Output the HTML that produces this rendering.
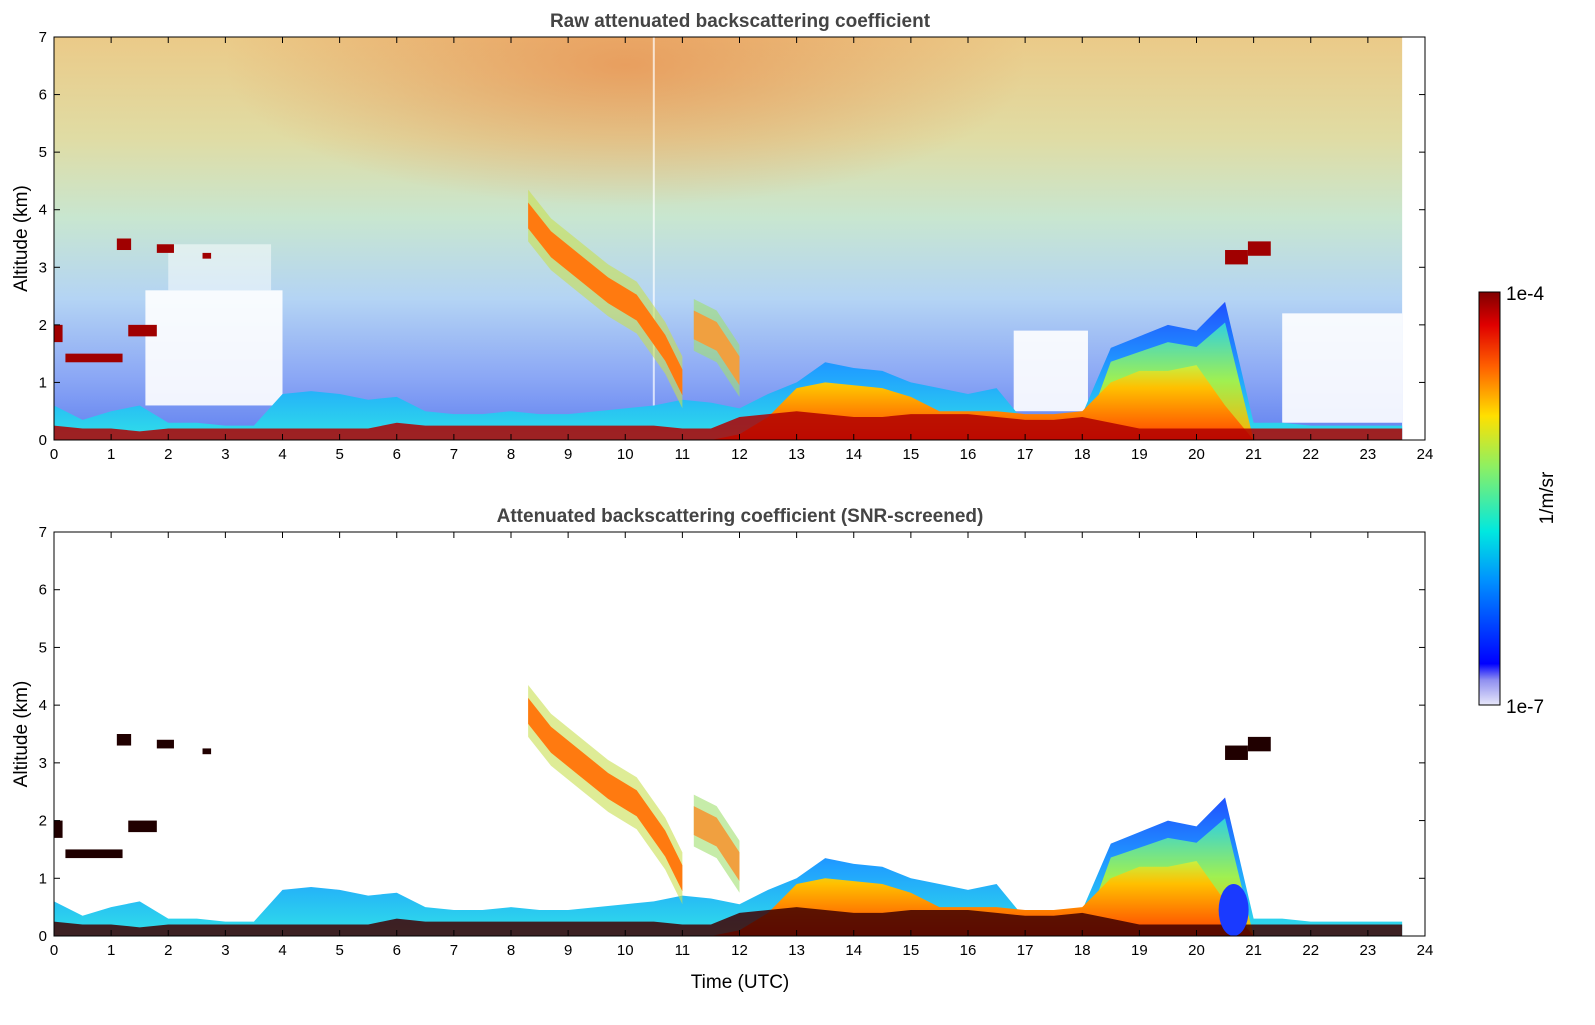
<!DOCTYPE html>
<html><head><meta charset="utf-8"><style>
html,body{margin:0;padding:0;background:#fff;}
body{width:1595px;height:1020px;overflow:hidden;font-family:"Liberation Sans",sans-serif;}
</style></head><body>
<svg id="chart" width="1595" height="1020" xmlns="http://www.w3.org/2000/svg" font-family="Liberation Sans, sans-serif">
<defs>
<linearGradient id="bgv" x1="0" y1="0" x2="0" y2="1">
<stop offset="0" stop-color="#ebca88"/><stop offset="0.25" stop-color="#e0dca4"/>
<stop offset="0.45" stop-color="#c8e6d0"/><stop offset="0.65" stop-color="#b4d4f4"/>
<stop offset="0.85" stop-color="#8aa6f5"/><stop offset="1" stop-color="#6080f0"/></linearGradient>
<radialGradient id="orng" cx="0.5" cy="0.1" r="0.5"><stop offset="0" stop-color="#e88a4a" stop-opacity="0.7"/><stop offset="1" stop-color="#e88a4a" stop-opacity="0"/></radialGradient>
<linearGradient id="bl" x1="0" y1="0" x2="0" y2="1"><stop offset="0" stop-color="#2050ff"/><stop offset="0.5" stop-color="#20a0ff"/><stop offset="1" stop-color="#30e0e8"/></linearGradient>
<linearGradient id="warm" x1="0" y1="0" x2="0" y2="1"><stop offset="0" stop-color="#c8f040"/><stop offset="0.3" stop-color="#ffc000"/><stop offset="1" stop-color="#ff4000"/></linearGradient>
<linearGradient id="plume" x1="0" y1="0" x2="0" y2="1"><stop offset="0" stop-color="#30d0e0"/><stop offset="0.5" stop-color="#a0f050"/><stop offset="1" stop-color="#ffb000"/></linearGradient>
<linearGradient id="cbar" x1="0" y1="1" x2="0" y2="0">
<stop offset="0" stop-color="#e8e8fa"/><stop offset="0.06" stop-color="#9090f0"/><stop offset="0.1" stop-color="#0000ff"/>
<stop offset="0.3" stop-color="#0090ff"/><stop offset="0.42" stop-color="#00e8e0"/><stop offset="0.58" stop-color="#90f060"/>
<stop offset="0.7" stop-color="#ffe000"/><stop offset="0.82" stop-color="#ff6000"/><stop offset="0.92" stop-color="#e00000"/><stop offset="1" stop-color="#800000"/></linearGradient>
<clipPath id="c1"><rect x="54" y="37" width="1371" height="403"/></clipPath>
<clipPath id="c2"><rect x="54" y="532" width="1371" height="404"/></clipPath>
</defs>
</svg>
<script>
const hours=[0,0.5,1,1.5,2,2.5,3,3.5,4,4.5,5,5.5,6,6.5,7,7.5,8,8.5,9,9.5,10,10.5,11,11.5,12,12.5,13,13.5,14,14.5,15,15.5,16,16.5,17,17.5,18,18.5,19,19.5,20,20.5,21,21.5,22,22.5,23,23.6];
const blTop=[0.6,0.35,0.5,0.6,0.3,0.3,0.25,0.25,0.8,0.85,0.8,0.7,0.75,0.5,0.45,0.45,0.5,0.45,0.45,0.5,0.55,0.6,0.7,0.65,0.55,0.8,1.0,1.35,1.25,1.2,1.0,0.9,0.8,0.9,0.3,0.3,0.45,1.6,1.8,2.0,1.9,2.4,0.3,0.3,0.25,0.25,0.25,0.25];
const warmTop=[0,0,0,0,0,0,0,0,0,0,0,0,0,0,0,0,0,0,0,0,0,0,0,0,0.1,0.4,0.9,1.0,0.95,0.9,0.75,0.5,0.5,0.5,0.45,0.45,0.5,1.0,1.2,1.2,1.3,0.6,0,0,0,0,0,0];
const groundTop=[0.25,0.2,0.2,0.15,0.2,0.2,0.2,0.2,0.2,0.2,0.2,0.2,0.3,0.25,0.25,0.25,0.25,0.25,0.25,0.25,0.25,0.25,0.2,0.2,0.4,0.45,0.5,0.45,0.4,0.4,0.45,0.45,0.45,0.4,0.35,0.35,0.4,0.3,0.2,0.2,0.2,0.2,0.2,0.2,0.2,0.2,0.2,0.2];
const cirrus1H=[8.3,8.7,9.2,9.7,10.2,10.7,11.0], cirrus1Alt=[3.9,3.4,3.0,2.6,2.3,1.6,1.0];
const cirrus2H=[11.2,11.6,12.0], cirrus2Alt=[2.0,1.8,1.2];
const cloudStart=[1.1,1.8,2.6,1.3,0.2,0,20.5,20.9];
const cloudEnd=[1.35,2.1,2.75,1.8,1.2,0.15,20.9,21.3];
const cloudBase=[3.3,3.25,3.15,1.8,1.35,1.7,3.05,3.2];
const cloudTop=[3.5,3.4,3.25,2.0,1.5,2.0,3.3,3.45];
const xTicks=[0,1,2,3,4,5,6,7,8,9,10,11,12,13,14,15,16,17,18,19,20,21,22,23,24];
const yTicks=[0,1,2,3,4,5,6,7];

const svg=document.getElementById('chart');
const NS='http://www.w3.org/2000/svg';
const X0=54,X1=1425;
const x=h=>X0+h*(X1-X0)/24;
function mk(tag,at,parent){const e=document.createElementNS(NS,tag);for(const k in at)e.setAttribute(k,at[k]);(parent||svg).appendChild(e);return e;}
function area(g,y,xs,top,bot,fill,name,op){
  let p=xs.map((h,i)=>x(h)+','+y(top[i])).join(' ');
  p+=' '+xs.slice().reverse().map((h,i)=>x(h)+','+y(bot?bot[xs.length-1-i]:0)).join(' ');
  const e=mk('polygon',{points:p,fill:fill,opacity:op||1},g);
  
  
  return e;
}
function band(g,y,hs,alts,th,fill,name,op){
  const up=alts.map(a=>a+th/2),dn=alts.map(a=>a-th/2);
  area(g,y,hs,up,dn,fill,name,op);
}
function panel(py0,py1,raw,title,idx){
  const y=k=>py1-k*(py1-py0)/7;
  const g=mk('g',{'clip-path':'url(#c'+idx+')'});
  
  
  if(raw){
    mk('rect',{x:x(0),y:py0,width:x(23.6)-x(0),height:py1-py0,fill:'url(#bgv)'},g);
    mk('rect',{x:x(3),y:py0,width:x(17)-x(3),height:(py1-py0)*0.7,fill:'url(#orng)'},g);
    [[1.6,4,0.6,2.6],[16.8,18.1,0.5,1.9],[21.5,23.6,0.3,2.2],[2,3.8,2.6,3.4]].forEach((r,i)=>{
      const e=mk('rect',{x:x(r[0]),y:y(r[3]),width:x(r[1])-x(r[0]),height:y(r[2])-y(r[3]),fill:'#fff',opacity:i==3?0.5:0.9},g);
      
      
    });
    mk('rect',{x:x(10.5)-1,y:py0,width:2,height:py1-py0,fill:'#fff',opacity:0.7},g);
  }
  area(g,y,hours,blTop,null,'url(#bl)','aerosol-layer');
  area(g,y,hours,blTop.map((v,i)=>hours[i]>=18.4&&hours[i]<=20.6?v*0.85:0),null,'url(#plume)','plume-19-21');
  area(g,y,hours,warmTop,null,'url(#warm)','warm-layer');
  area(g,y,hours,groundTop,null,raw?'#b00000':'#400000','ground-band',0.85);
  band(g,y,cirrus1H,cirrus1Alt,0.9,'#c8e050','cirrus-halo-1',0.6);
  band(g,y,cirrus1H,cirrus1Alt,0.45,'#ff7a10','cirrus-band-1');
  band(g,y,cirrus2H,cirrus2Alt,0.9,'#a0e070','cirrus-halo-2',0.6);
  band(g,y,cirrus2H,cirrus2Alt,0.5,'#f0a040','cirrus-band-2');
  if(!raw){
    const b=mk('ellipse',{cx:x(20.65),cy:y(0.45),rx:15,ry:y(0)-y(0.45),fill:'#1a3aff'},g);
    
  }
  cloudStart.forEach((s,i)=>{
    const e=mk('rect',{x:x(s),y:y(cloudTop[i]),width:x(cloudEnd[i])-x(s),height:y(cloudBase[i])-y(cloudTop[i]),fill:raw?'#a00000':'#200000'},g);
    
    
  });
  const fr=mk('rect',{x:X0,y:py0,width:X1-X0,height:py1-py0,fill:'none',stroke:'#000','stroke-width':1});
  
  xTicks.forEach(t=>{
    mk('line',{x1:x(t),x2:x(t),y1:py1,y2:py1-6,stroke:'#000'});
    mk('line',{x1:x(t),x2:x(t),y1:py0,y2:py0+6,stroke:'#000'});
    const l=mk('text',{x:x(t),y:py1+19,'font-size':15,'text-anchor':'middle'});l.textContent=t;
    
  });
  yTicks.forEach(t=>{
    mk('line',{x1:X0,x2:X0+6,y1:y(t),y2:y(t),stroke:'#000'});
    mk('line',{x1:X1,x2:X1-6,y1:y(t),y2:y(t),stroke:'#000'});
    const l=mk('text',{x:X0-7,y:y(t)+5,'font-size':15,'text-anchor':'end'});l.textContent=t;
    
  });
  const tt=mk('text',{x:740,y:py0-10,'font-size':19,'font-weight':'bold','text-anchor':'middle',fill:'#444'});tt.textContent=title;
  
  const yl=mk('text',{x:0,y:0,'font-size':19,'text-anchor':'middle',transform:'translate(27,'+((py0+py1)/2)+') rotate(-90)'});yl.textContent='Altitude (km)';
  
}
panel(37,440,true,'Raw attenuated backscattering coefficient',1);
panel(532,936,false,'Attenuated backscattering coefficient (SNR-screened)',2);
const xt=mk('text',{x:740,y:988,'font-size':19,'text-anchor':'middle'});xt.textContent='Time (UTC)';

const cb=mk('rect',{x:1479,y:292,width:21,height:413,fill:'url(#cbar)',stroke:'#000'});

const c1=mk('text',{x:1506,y:300,'font-size':19});c1.textContent='1e-4';

const c2=mk('text',{x:1506,y:713,'font-size':19});c2.textContent='1e-7';

const c3=mk('text',{x:0,y:0,'font-size':19,'text-anchor':'middle',transform:'translate(1553,498) rotate(-90)'});c3.textContent='1/m/sr';

</script>
</body></html>
